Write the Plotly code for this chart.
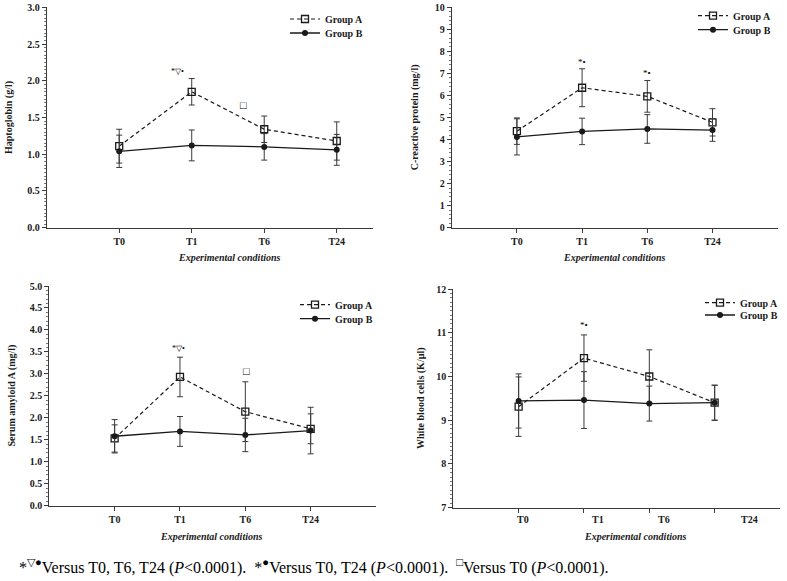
import plotly.graph_objects as go

W, H = 787, 581
def px(x): return x / W
def py(y): return 1 - y / H

timepoints = ["T0", "T1", "T6", "T24"]
xi = [0, 1, 2, 3]

# Panel 1: Haptoglobin (g/l)
hp_a = [1.11, 1.85, 1.34, 1.18]
hp_a_sd = [0.23, 0.18, 0.18, 0.26]
hp_b = [1.04, 1.12, 1.10, 1.06]
hp_b_sd = [0.22, 0.21, 0.18, 0.21]

# Panel 2: C-reactive protein (mg/l)
crp_a = [4.38, 6.35, 5.96, 4.78]
crp_a_sd = [0.60, 0.86, 0.72, 0.62]
crp_b = [4.12, 4.37, 4.48, 4.43]
crp_b_sd = [0.82, 0.60, 0.65, 0.51]

# Panel 3: Serum amyloid A (mg/l)
saa_a = [1.53, 2.93, 2.14, 1.75]
saa_a_sd = [0.31, 0.45, 0.68, 0.34]
saa_b = [1.58, 1.69, 1.61, 1.71]
saa_b_sd = [0.38, 0.34, 0.38, 0.53]

# Panel 4: White blood cells (K/µl)
wbc_a = [9.31, 10.42, 10.00, 9.40]
wbc_a_sd = [0.68, 0.53, 0.61, 0.40]
wbc_b = [9.44, 9.46, 9.38, 9.40]
wbc_b_sd = [0.62, 0.65, 0.40, 0.40]

SERIF = "Liberation Serif"
INK = "#1a1a1a"
AX = "#3a3a3a"

panels = [
    dict(a=hp_a, asd=hp_a_sd, b=hp_b, bsd=hp_b_sd, ytitle="Haptoglobin (g/l)",
         xdom=(46.7, 373), ydom=(7.3, 227.7), yr=(0, 3), dt=0.5, mdt=0.05, fmt=".1f",
         xr=(-1, 3.5), ytx=9.5, xtitle=(229, 257.7),
         leg=(325, 19, 33)),
    dict(a=crp_a, asd=crp_a_sd, b=crp_b, bsd=crp_b_sd, ytitle="C-reactive protein (mg/l)",
         xdom=(451.7, 777.7), ydom=(7.3, 227.7), yr=(0, 10), dt=1, mdt=0.2, fmt="d",
         xr=(-1, 4), ytx=415.7, xtitle=(614.5, 257.7),
         leg=(733, 15.7, 29.7)),
    dict(a=saa_a, asd=saa_a_sd, b=saa_b, bsd=saa_b_sd, ytitle="Serum amyloid A (mg/l)",
         xdom=(49.3, 376), ydom=(286, 505.7), yr=(0, 5), dt=0.5, mdt=0.1, fmt=".1f",
         xr=(-1, 4), ytx=11.7, xtitle=(211.5, 536.7),
         leg=(335, 304.7, 318.7)),
    dict(a=wbc_a, asd=wbc_a_sd, b=wbc_b, bsd=wbc_b_sd, ytitle="White blood cells (K/µl)",
         xdom=(453.3, 780), ydom=(289, 507.7), yr=(7, 12), dt=1, mdt=0.1, fmt="d",
         xr=(-1, 4), ytx=421.7, xtitle=(635, 536.7),
         leg=(740, 302.7, 315)),
]

fig = go.Figure()
annotations = []
for i, p in enumerate(panels, start=1):
    sfx = "" if i == 1 else str(i)
    xa, ya = "x" + sfx, "y" + sfx
    la = "legend" if i == 1 else "legend%d" % (2 * i - 1)
    lb = "legend%d" % (2 * i)
    fig.add_trace(go.Scatter(
        x=xi, y=p["a"], name="Group A", xaxis=xa, yaxis=ya, legend=la,
        mode="lines+markers",
        line=dict(color=INK, width=1.2, dash="4px,3px"),
        marker=dict(symbol="square-open", size=7, color=INK, line=dict(width=1.3)),
        error_y=dict(type="data", array=p["asd"], color=AX, thickness=1, width=3),
    ))
    fig.add_trace(go.Scatter(
        x=xi, y=p["b"], name="Group B", xaxis=xa, yaxis=ya, legend=lb,
        mode="lines+markers",
        line=dict(color=INK, width=1.3),
        marker=dict(symbol="circle", size=6, color=INK),
        error_y=dict(type="data", array=p["bsd"], color=AX, thickness=1, width=3),
    ))
    fig.layout["xaxis" + sfx] = dict(
        domain=[px(p["xdom"][0]), px(p["xdom"][1])], anchor=ya, range=list(p["xr"]),
        tickmode="array", tickvals=xi, ticktext=timepoints, showticklabels=(i != 4),
        ticks="outside", ticklen=4, tickwidth=1, tickcolor=AX,
        showline=True, linecolor=AX, linewidth=1, showgrid=False, zeroline=False,
        tickfont=dict(family=SERIF, size=10, color=INK, weight="bold"),
    )
    fig.layout["yaxis" + sfx] = dict(
        domain=[py(p["ydom"][1]), py(p["ydom"][0])], anchor=xa, range=list(p["yr"]),
        dtick=p["dt"], tick0=p["yr"][0], tickformat=p["fmt"],
        ticks="outside", ticklen=4, tickwidth=1, tickcolor=AX,
        minor=dict(ticks="outside", ticklen=2, dtick=p["mdt"], tickcolor="#777", tickwidth=1),
        showline=True, linecolor=AX, linewidth=1, showgrid=False, zeroline=False,
        tickfont=dict(family=SERIF, size=10, color=INK, weight="bold"),
    )
    tx, ya_y, yb_y = p["leg"]
    for name, yy in ((la, ya_y), (lb, yb_y)):
        fig.layout[name] = dict(
            x=px(tx - 40), y=py(yy), xanchor="left", yanchor="middle",
            bgcolor="rgba(0,0,0,0)", itemwidth=30, borderwidth=0,
            font=dict(family=SERIF, size=10, color=INK, weight="bold"),
        )
    annotations.append(dict(
        text=p["ytitle"], xref="paper", yref="paper", textangle=-90,
        x=px(p["ytx"]), y=py((p["ydom"][0] + p["ydom"][1]) / 2),
        showarrow=False, xanchor="center", yanchor="middle",
        font=dict(family=SERIF, size=10, color=INK, weight="bold"),
    ))
    annotations.append(dict(
        text="Experimental conditions", xref="paper", yref="paper",
        x=px(p["xtitle"][0]), y=py(p["xtitle"][1]), showarrow=False,
        xanchor="center", yanchor="middle",
        font=dict(family=SERIF, size=10, color=INK, weight="bold", style="italic"),
    ))

# Panel 4 shifted category labels (as printed in the reference)
wbc_label_pos = [0.06, 1.22, 2.22, 3.54]
for lab, xv in zip(timepoints, wbc_label_pos):
    annotations.append(dict(
        text=lab, xref="x4", yref="paper", x=xv, y=py(519.5), showarrow=False,
        xanchor="center", yanchor="middle",
        font=dict(family=SERIF, size=10, color=INK, weight="bold"),
    ))

marks = [
    ("x", "y", 0.80, 2.12, "*▽•", 8),
    ("x", "y", 1.71, 1.675, "□", 11),
    ("x2", "y2", 1.0, 7.5, "*•", 9),
    ("x2", "y2", 2.0, 7.02, "*•", 9),
    ("x3", "y3", 0.97, 3.57, "*▽•", 8),
    ("x3", "y3", 2.02, 3.07, "□", 11),
    ("x4", "y4", 1.0, 11.17, "*•", 9),
]
for xr_, yr_, xv, yv, t, s in marks:
    annotations.append(dict(text=t, xref=xr_, yref=yr_, x=xv, y=yv, showarrow=False,
                            font=dict(family=SERIF, size=s, color="#000")))

footnote = ("*<sup>▽●</sup>Versus T0, T6, T24 (<i>P</i>&lt;0.0001).  "
            "*<sup>●</sup>Versus T0, T24 (<i>P</i>&lt;0.0001).  "
            "<sup>□</sup>Versus T0 (<i>P</i>&lt;0.0001).")
annotations.append(dict(text=footnote, xref="paper", yref="paper", x=px(17), y=py(566),
                        xanchor="left", yanchor="middle", showarrow=False,
                        font=dict(family=SERIF, size=16, color="#000")))

fig.update_layout(
    width=W, height=H, margin=dict(l=0, r=0, t=0, b=0, autoexpand=False),
    paper_bgcolor="white", plot_bgcolor="white",
    annotations=annotations, showlegend=True,
)
fig.write_html("out.html", config={"displayModeBar": False},
               post_script="document.body.style.margin='0';document.body.style.overflow='hidden';")
